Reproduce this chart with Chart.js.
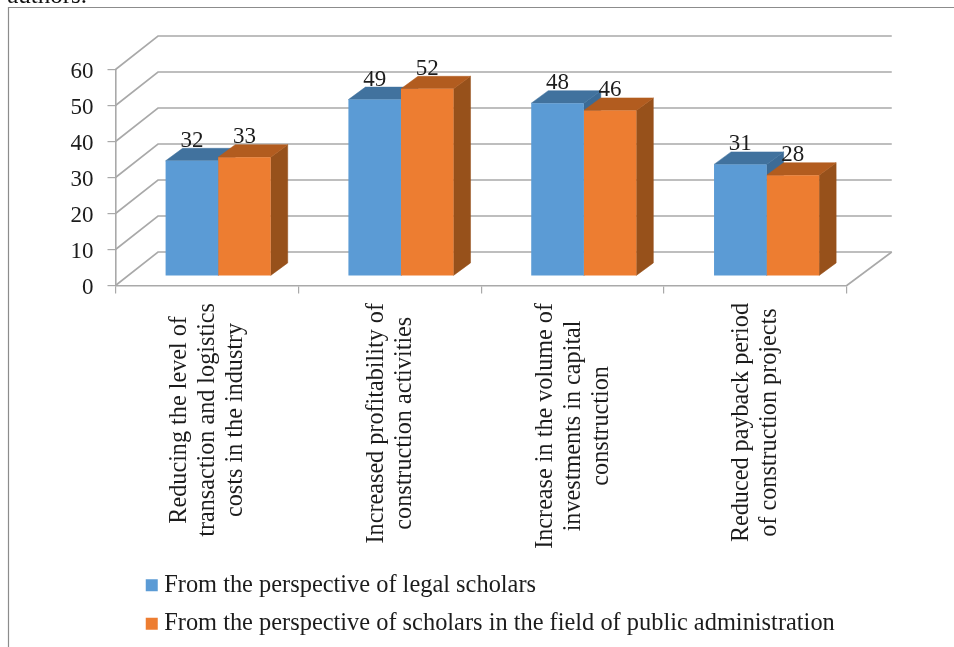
<!DOCTYPE html>
<html>
<head>
<meta charset="utf-8">
<style>html,body{margin:0;padding:0;background:#fff;overflow:hidden}canvas{display:block}</style>
<script src="https://cdn.jsdelivr.net/npm/chart.js@4"></script>
</head>
<body>
<div style="width:954px;height:647px;position:relative"><canvas id="c" width="954" height="647"></canvas></div>
<script>
const categories = [
  ["Reducing the level of", "transaction and logistics", "costs in the industry"],
  ["Increased profitability of", "construction activities"],
  ["Increase in the volume of", "investments in capital", "construction"],
  ["Reduced payback period", "of construction projects"]
];
const seriesNames = [
  "From the perspective of legal scholars",
  "From the perspective of scholars in the field of public administration"
];
const legalScholars = [32, 49, 48, 31];
const publicAdminScholars = [33, 52, 46, 28];
const captionTail = "the authors.";

const FONT = '"Liberation Serif"';
const TEXT = '#1c1c1c', GRID = '#a9a9a9';
const BACK = {dx: 42.5, dy: -33.5};   // wall depth
const SHIFT = {dx: 11.25, dy: -9.5};  // bars stand inside the floor
const DEPTH = {dx: 17, dy: -12.5};    // bar depth
const FACES = [{top:'#41729e', side:'#3c6b96'}, {top:'#b25c1f', side:'#97511b'}];

function poly(ctx, pts, fill){
  ctx.beginPath();
  pts.forEach((p,i)=> i ? ctx.lineTo(p[0],p[1]) : ctx.moveTo(p[0],p[1]));
  ctx.closePath();
  ctx.fillStyle = fill; ctx.fill();
  ctx.strokeStyle = fill; ctx.lineWidth = .5; ctx.stroke();
}

const scene = {
  id: 'scene',
  afterLayout(chart){
    chart.legend.left = 137.4;
    chart.legend.top = 559;
  },
  beforeDatasetsDraw(chart){
    const {ctx, scales:{x,y}} = chart;
    ctx.save();
    ctx.strokeStyle = GRID; ctx.lineWidth = 1.6;
    y.ticks.forEach(t=>{
      const py = y.getPixelForValue(t.value);
      ctx.beginPath();
      ctx.moveTo(x.left, py);
      ctx.lineTo(x.left+BACK.dx, py+BACK.dy);
      ctx.lineTo(x.right+BACK.dx+2.5, py+BACK.dy);
      ctx.stroke();
    });
    const py0 = y.getPixelForValue(0);
    ctx.beginPath();
    ctx.moveTo(x.right, py0);
    ctx.lineTo(x.right+BACK.dx+2.5, py0+BACK.dy);
    ctx.stroke();
    ctx.restore();

    ctx.save();
    ctx.translate(SHIFT.dx, SHIFT.dy);
    for(let i=0;i<categories.length;i++){
      [0,1].forEach(d=>{
        const el = chart.getDatasetMeta(d).data[i];
        const l = el.x-el.width/2, r = el.x+el.width/2, t = el.y, b = el.base;
        poly(ctx, [[r,t],[r+DEPTH.dx,t+DEPTH.dy],[r+DEPTH.dx,b+DEPTH.dy],[r,b]], FACES[d].side);
        poly(ctx, [[l,t],[r,t],[r+DEPTH.dx,t+DEPTH.dy],[l+DEPTH.dx,t+DEPTH.dy]], FACES[d].top);
      });
    }
  },
  afterDatasetsDraw(chart){
    const {ctx, scales:{x}} = chart;
    ctx.restore();
    ctx.save();
    ctx.fillStyle = TEXT;
    ctx.font = '23px '+FONT;
    ctx.textAlign = 'center'; ctx.textBaseline = 'alphabetic';
    [0,1].forEach(d=>{
      chart.getDatasetMeta(d).data.forEach((el,i)=>{
        ctx.fillText(String(chart.data.datasets[d].data[i]), el.x+SHIFT.dx, el.y+SHIFT.dy-14);
      });
    });
    // category labels: centred rotated lines, reading upward
    ctx.font = '24.2px '+FONT;
    categories.forEach((lines,i)=>{
      const cx = x.getPixelForValue(i);
      const longest = Math.max(...lines.map(s=>ctx.measureText(s).width));
      const cy = 303 + longest/2;
      lines.forEach((s,j)=>{
        const bx = cx + 7 + (j-(lines.length-1)/2)*28;
        ctx.save();
        ctx.translate(bx, cy);
        ctx.rotate(-Math.PI/2);
        ctx.fillText(s, 0, 0);
        ctx.restore();
      });
    });
    ctx.restore();
  },
  afterDraw(chart){
    const {ctx} = chart;
    ctx.save();
    ctx.strokeStyle = '#8c8c8c'; ctx.lineWidth = 1.2;
    ctx.beginPath();
    ctx.moveTo(8.5,647); ctx.lineTo(8.5,7.5); ctx.lineTo(954,7.5);
    ctx.stroke();
    ctx.fillStyle = '#111';
    ctx.font = '25px '+FONT;
    ctx.textAlign = 'right'; ctx.textBaseline = 'alphabetic';
    ctx.fillText(captionTail, 87, 3);
    ctx.restore();
  }
};

new Chart(document.getElementById('c'), {
  type: 'bar',
  data: {
    labels: categories,
    datasets: [
      {label: seriesNames[0], data: legalScholars, backgroundColor: '#5b9bd5', borderWidth: 0, pointStyle:'rect'},
      {label: seriesNames[1], data: publicAdminScholars, backgroundColor: '#ed7d31', borderWidth: 0, pointStyle:'rect'}
    ]
  },
  plugins: [scene],
  options: {
    responsive: false,
    animation: false,
    layout: {padding: {left: 50, right: 107.25, top: 69.5, bottom: 0}},
    datasets: {bar: {categoryPercentage: 0.575, barPercentage: 1}},
    plugins: {
      tooltip: {enabled: false},
      title: {display: false},
      legend: {
        position: 'bottom', align: 'start',
        labels: {
          usePointStyle: true, boxWidth: 0.5, boxHeight: 12, padding: 14.1,
          color: TEXT, font: {family: FONT, size: 24.4}
        }
      }
    },
    scales: {
      x: {
        afterFit(s){ s.height = 361.5 - s.chart.legend.height; },
        border: {display: true, color: GRID, width: 1.6},
        grid: {drawOnChartArea: false, drawTicks: true, tickLength: 8, color: GRID, lineWidth: 1.2},
        ticks: {display: false, autoSkip: false}
      },
      y: {
        min: 0, max: 60,
        afterFit(s){ s.width = 65.5; },
        border: {display: true, color: GRID, width: 1.6},
        grid: {drawOnChartArea: false, drawTicks: true, tickLength: 8, color: GRID, lineWidth: 1.2},
        ticks: {stepSize: 10, color: TEXT, padding: 14, labelOffset: 2, font: {family: FONT, size: 23}}
      }
    }
  }
});
</script>
</body>
</html>
